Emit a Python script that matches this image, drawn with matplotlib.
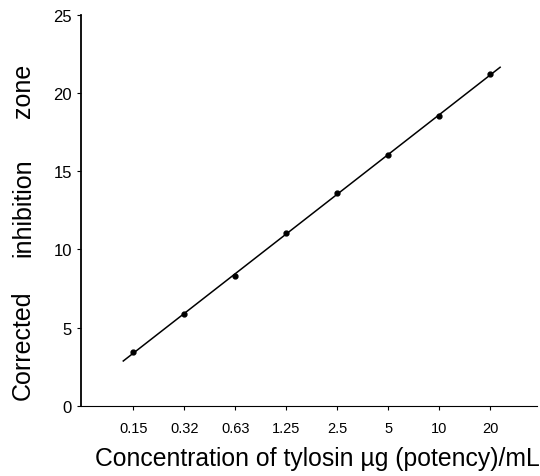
import numpy as np
import matplotlib.pyplot as plt

plt.rcParams['font.family'] = ['Liberation Sans', 'DejaVu Sans']

concentrations = ['0.15', '0.32', '0.63', '1.25', '2.5', '5', '10', '20']
zone = [3.45, 5.88, 8.31, 11.06, 13.6, 16.05, 18.5, 21.2]

x = np.arange(len(concentrations))
slope, intercept = np.polyfit(x, zone, 1)
x_fit = np.array([-0.2, 7.2])

fig = plt.figure(figsize=(5.4, 4.77), dpi=100)
ax = fig.add_axes([0.15, 0.147, 0.845, 0.82])

ax.plot(x_fit, slope * x_fit + intercept, color='black', lw=1.1)
ax.plot(x, zone, 'o', color='black', markersize=3.5)

ax.set_xlim(-1.03, 7.93)
ax.set_ylim(0, 25)
ax.set_xticks(x)
ax.set_xticklabels(concentrations, fontsize=10.5)
ax.set_yticks([0, 5, 10, 15, 20, 25])
ax.tick_params(axis='y', labelsize=12, length=3, width=0.8)
ax.tick_params(axis='x', length=3, width=0.8, pad=8)

ax.spines['top'].set_visible(False)
ax.spines['right'].set_visible(False)
ax.spines['left'].set_linewidth(1.3)
ax.spines['bottom'].set_linewidth(0.8)

ax.set_xlabel('Concentration of tylosin µg (potency)/mL', fontsize=17.8, va='baseline')
ax.xaxis.set_label_coords(0.517, -0.151)

for word, ypix in [('Corrected', 345), ('inhibition', 208), ('zone', 91)]:
    fig.text(0.043, 1 - ypix / 477, word, rotation=90, fontsize=18, ha='center', va='center')

fig.savefig('out.png', dpi=100)
